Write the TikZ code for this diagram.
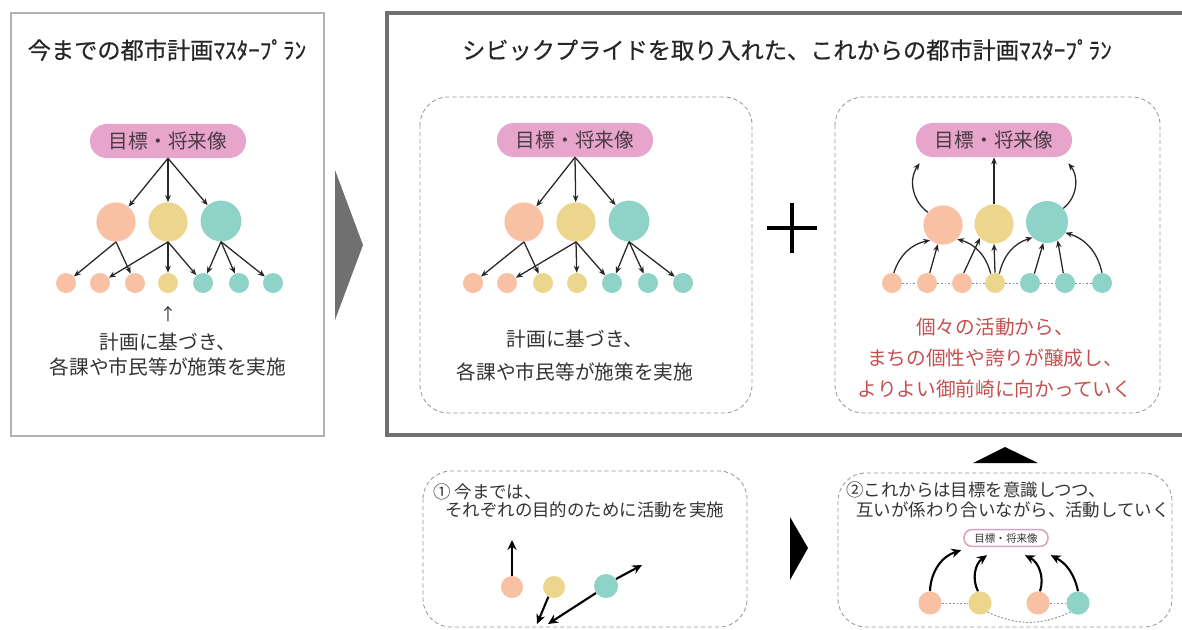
\documentclass[tikz,border=0pt]{standalone}
\usepackage{fontspec}
\setmainfont{Noto Sans CJK JP}
\newfontfamily\ttlfont{Noto Sans CJK JP}[FakeBold=0.5]
\usetikzlibrary{arrows.meta}
\definecolor{cpeach}{HTML}{F8C1A4}
\definecolor{cyel}{HTML}{ECD58D}
\definecolor{cteal}{HTML}{8FD3C8}
\definecolor{cpink}{HTML}{E8A5CC}
\definecolor{cpinkline}{HTML}{D9A3BF}
\definecolor{cpilltext}{HTML}{4A3A44}
\definecolor{cred}{HTML}{C4504E}
\definecolor{ctext}{HTML}{333333}
\definecolor{cframe}{HTML}{707070}
\definecolor{cdot}{HTML}{8391A3}
\begin{document}
\begin{tikzpicture}[x=0.025cm,y=-0.025cm,
  title/.style={font=\ttlfont\fontsize{16.5}{19}\selectfont, text=black!85, inner sep=0},
  body/.style={font=\fontsize{14}{17.8}\selectfont, text=ctext, align=center, inner sep=0},
  small txt/.style={font=\fontsize{12.4}{14}\selectfont, text=ctext, inner sep=0, anchor=west},
  pill/.style={rounded corners=0.42cm, fill=cpink, minimum width=3.9cm, minimum height=0.85cm, inner sep=0, font=\fontsize{14}{16}\selectfont, text=cpilltext},
  big/.style={circle, minimum size=0.98cm, inner sep=0},
  small/.style={circle, minimum size=0.5cm, inner sep=0},
  mid/.style={circle, minimum size=0.58cm, inner sep=0},
  arr/.style={-{Stealth[length=5pt,width=4pt]}, line width=0.9pt, draw=black!85},
  tarr/.style={-{Stealth[length=7pt,width=6.5pt]}, line width=1.5pt},
  dbox/.style={draw=gray!80, dash pattern=on 3pt off 2pt, rounded corners=0.7cm, line width=0.6pt},
  dotl/.style={draw=cdot, dash pattern=on 1.3pt off 1.3pt, line width=0.7pt}]
\useasboundingbox (0,0) rectangle (1182,630);

% ---------- left panel ----------
\draw[draw=gray!60, line width=0.8pt] (11,13) rectangle (324,436);
\node[title] (lt) at (167,50) {今までの都市計画ﾏｽﾀｰﾌﾟﾗﾝ};
\node[pill] (L0) at (168,141) {目標・将来像};
\node[big, fill=cpeach] (La) at (116,222) {};
\node[big, fill=cyel] (Lb) at (168,222) {};
\node[big, fill=cteal, minimum size=1.02cm] (Lc) at (221,221) {};
\node[small, fill=cpeach] (l1) at (66,283) {};
\node[small, fill=cpeach] (l2) at (100,283) {};
\node[small, fill=cpeach] (l3) at (135,283) {};
\node[small, fill=cyel] (l4) at (168,283) {};
\node[small, fill=cteal] (l5) at (203,283) {};
\node[small, fill=cteal] (l6) at (239,283) {};
\node[small, fill=cteal] (l7) at (273,283) {};
\draw[arr] (L0.south) -- (La);
\draw[arr] (L0.south) -- (Lb);
\draw[arr] (L0.south) -- (Lc);
\draw[arr] (La.south) -- (l1);
\draw[arr] (La.south) -- (l3);
\draw[arr] (Lb.south) -- (l2);
\draw[arr] (Lb.south) -- (l4);
\draw[arr] (Lb.south) -- (l5);
\draw[arr] (Lc.south) -- (l5);
\draw[arr] (Lc.south) -- (l6);
\draw[arr] (Lc.south) -- (l7);
\node[body, font=\fontsize{12}{14}\selectfont] (lup) at (168,314) {↑};
\node[body] (ltx) at (168,355) {計画に基づき、\\各課や市民等が施策を実施};

% ---------- chevron ----------
\fill[cframe] (335,170) -- (363,245) -- (335,320) -- cycle;

% ---------- main panel ----------
\draw[draw=cframe, line width=3.5pt] (387,13) rectangle (1200,435);
\node[title] (mt) at (787,50) {シビックプライドを取り入れた、これからの都市計画ﾏｽﾀｰﾌﾟﾗﾝ};

% middle box
\draw[dbox] (420,97) rectangle (752,413);
\node[pill] (M0) at (575,140) {目標・将来像};
\node[big, fill=cpeach] (Ma) at (524,222) {};
\node[big, fill=cyel] (Mb) at (576,222) {};
\node[big, fill=cteal, minimum size=1.02cm] (Mc) at (629,221) {};
\node[small, fill=cpeach] (m1) at (473,283) {};
\node[small, fill=cpeach] (m2) at (507,283) {};
\node[small, fill=cyel] (m3) at (543,283) {};
\node[small, fill=cyel] (m4) at (577,283) {};
\node[small, fill=cteal] (m5) at (612,283) {};
\node[small, fill=cteal] (m6) at (648,283) {};
\node[small, fill=cteal] (m7) at (683,283) {};
\draw[arr] (M0.south) -- (Ma);
\draw[arr] (M0.south) -- (Mb);
\draw[arr] (M0.south) -- (Mc);
\draw[arr] (Ma.south) -- (m1);
\draw[arr] (Ma.south) -- (m3);
\draw[arr] (Mb.south) -- (m2);
\draw[arr] (Mb.south) -- (m4);
\draw[arr] (Mb.south) -- (m5);
\draw[arr] (Mc.south) -- (m5);
\draw[arr] (Mc.south) -- (m6);
\draw[arr] (Mc.south) -- (m7);
\node[body, font=\fontsize{14}{23.5}\selectfont] (mtx) at (575,356) {計画に基づき、\\各課や市民等が施策を実施};

% plus
\draw[line width=3.5pt] (767,228) -- (817,228);
\draw[line width=3.5pt] (792,203) -- (792,253);

% right box
\draw[dbox] (835,97) rectangle (1160,413);
\node[pill] (R0) at (994,140) {目標・将来像};
\node[big, fill=cpeach] (Ra) at (943,225) {};
\node[big, fill=cyel] (Rb) at (994,224) {};
\node[big, fill=cteal, minimum size=1.05cm] (Rc) at (1047,222) {};
\node[small, fill=cpeach] (r1) at (892,283) {};
\node[small, fill=cpeach] (r2) at (927,283) {};
\node[small, fill=cpeach] (r3) at (962,283) {};
\node[small, fill=cyel] (r4) at (995,283) {};
\node[small, fill=cteal] (r5) at (1030,283) {};
\node[small, fill=cteal] (r6) at (1065,283) {};
\node[small, fill=cteal] (r7) at (1102,283) {};
\foreach \a/\b in {r1/r2,r2/r3,r3/r4,r4/r5,r5/r6,r6/r7} \draw[dotl] (\a) -- (\b);
\draw[arr] (Ra.140) to[bend left=45] ([shift={(4,6)}]R0.south west);
\draw[arr] (Rb.north) -- (R0.south);
\draw[arr] (Rc.40) to[bend right=45] ([shift={(-4,6)}]R0.south east);
\draw[arr] (r1.80) to[bend left=30] (Ra.230);
\draw[arr] (r2.75) -- (Ra.255);
\draw[arr] (r3.80) -- (Rb.225);
\draw[arr] (r4.115) to[bend right=30] (Ra.315);
\draw[arr] (r4.north) -- (Rb.south);
\draw[arr] (r4.65) to[bend left=30] (Rc.227);
\draw[arr] (r5.65) -- (Rc.260);
\draw[arr] (r6.100) -- (Rc.300);
\draw[arr] (r7.90) to[bend right=30] (Rc.330);
\node[body, text=cred, font=\fontsize{14}{22}\selectfont] (rtx) at (995,358) {個々の活動から、\\まちの個性や誇りが醸成し、\\よりよい御前崎に向かっていく};

% ---------- bottom ----------
\fill (973,463) -- (1005,447) -- (1038,463) -- cycle;
\fill (790,517) -- (808,548) -- (790,580) -- cycle;

% bottom left box
\draw[dbox] (423,471) rectangle (747,627);
\node[small txt] (b1t) at (433,492) {① 今までは、};
\node[small txt] (b2t) at (445,510) {それぞれの目的のために活動を実施};
\node[mid, fill=cpeach, minimum size=0.55cm] (B1) at (512,587) {};
\node[mid, fill=cyel, minimum size=0.55cm] (B2) at (554,587) {};
\node[mid, fill=cteal, minimum size=0.6cm] (B3) at (606,586) {};
\coordinate (e1) at (512,540);
\coordinate (e2) at (537,624);
\coordinate (e3) at (642,565);
\coordinate (e4) at (548,624);
\draw[tarr] (B1.north) -- (e1);
\draw[tarr] (B2.240) -- (e2);
\draw[tarr] (B3.35) -- (e3);
\draw[tarr] (B3.215) -- (e4);

% bottom right box
\draw[dbox] (838,473) rectangle (1172,627);
\node[small txt] (c1t) at (846,490) {②これからは目標を意識しつつ、};
\node[small txt] (c2t) at (856,510) {互いが係わり合いながら、活動していく};
\node[draw=cpinkline, line width=1.1pt, fill=white, rounded corners=0.2cm, minimum width=2.1cm, minimum height=0.42cm, inner sep=0, font=\fontsize{7.5}{9}\selectfont, text=ctext] (P) at (1006,538) {目標・将来像};
\node[mid, fill=cpeach] (C1) at (930,603) {};
\node[mid, fill=cyel] (C2) at (980,603) {};
\node[mid, fill=cpeach] (C3) at (1038,603) {};
\node[mid, fill=cteal] (C4) at (1078,603) {};
\draw[dotl] (C1) -- (C2);
\draw[dotl] (C3) -- (C4);
\draw[dotl] (C2.-50) to[bend right=25] (C4.230);
\draw[tarr] (C1.north) to[bend left=35] ([shift={(-2,3)}]P.south west);
\draw[tarr] (C2.100) to[bend left=40] ([shift={(-19,8)}]P.south);
\draw[tarr] (C3.80) to[bend right=40] ([shift={(19,8)}]P.south);
\draw[tarr] (C4.north) to[bend right=25] ([shift={(2,8)}]P.south east);
\end{tikzpicture}
\end{document}
